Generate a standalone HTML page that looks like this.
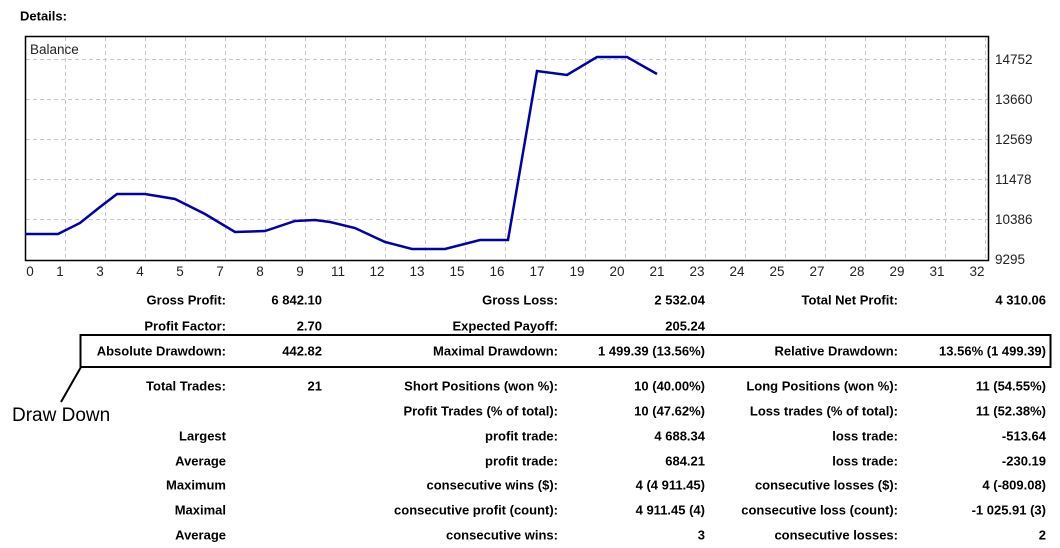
<!DOCTYPE html>
<html><head><meta charset="utf-8"><style>
body{margin:0;width:1060px;height:548px;background:#fff;font-family:"Liberation Sans",sans-serif;position:relative;overflow:hidden}
.t{position:absolute;font-size:13px;font-weight:bold;color:#000;white-space:nowrap;transform:translateY(-50%)}
.r{text-align:right}
</style></head><body>
<div class="t" style="left:20px;top:16px">Details:</div>
<svg width="1060" height="548" style="position:absolute;left:0;top:0">
<g stroke="#c8c8c8" stroke-dasharray="4,3" stroke-width="1">
<line x1="26" y1="59.5" x2="988" y2="59.5"/><line x1="26" y1="99.5" x2="988" y2="99.5"/><line x1="26" y1="139.5" x2="988" y2="139.5"/><line x1="26" y1="179.5" x2="988" y2="179.5"/><line x1="26" y1="219.5" x2="988" y2="219.5"/>
<line x1="65.5" y1="37" x2="65.5" y2="260"/><line x1="105.5" y1="37" x2="105.5" y2="260"/><line x1="145.5" y1="37" x2="145.5" y2="260"/><line x1="185.5" y1="37" x2="185.5" y2="260"/><line x1="225.5" y1="37" x2="225.5" y2="260"/><line x1="265.5" y1="37" x2="265.5" y2="260"/><line x1="305.5" y1="37" x2="305.5" y2="260"/><line x1="345.5" y1="37" x2="345.5" y2="260"/><line x1="385.5" y1="37" x2="385.5" y2="260"/><line x1="425.5" y1="37" x2="425.5" y2="260"/><line x1="465.5" y1="37" x2="465.5" y2="260"/><line x1="505.5" y1="37" x2="505.5" y2="260"/><line x1="545.5" y1="37" x2="545.5" y2="260"/><line x1="585.5" y1="37" x2="585.5" y2="260"/><line x1="625.5" y1="37" x2="625.5" y2="260"/><line x1="665.5" y1="37" x2="665.5" y2="260"/><line x1="705.5" y1="37" x2="705.5" y2="260"/><line x1="745.5" y1="37" x2="745.5" y2="260"/><line x1="785.5" y1="37" x2="785.5" y2="260"/><line x1="825.5" y1="37" x2="825.5" y2="260"/><line x1="865.5" y1="37" x2="865.5" y2="260"/><line x1="905.5" y1="37" x2="905.5" y2="260"/><line x1="945.5" y1="37" x2="945.5" y2="260"/><line x1="985.5" y1="37" x2="985.5" y2="260"/>
</g>
<rect x="25.5" y="36.5" width="963" height="224" fill="none" stroke="#000" stroke-width="1.5"/>
<polyline fill="none" stroke="#0000a8" stroke-width="2.5" points="25,234 58,234 80,223 100,207 117,194 145,194 175,199 205,214 235,232 265,231 295,221 315,220 330,222 355,228 385,242 412,249 445,249 480,240 508,240 537,71 567,75 597,57 627,57 657,74"/>
<g font-family="Liberation Sans,sans-serif" font-size="13.5" fill="#222">
<text x="30" y="54">Balance</text>
<g text-anchor="middle">
<text x="30" y="276">0</text><text x="60" y="276">1</text><text x="100" y="276">3</text><text x="140" y="276">4</text><text x="180" y="276">5</text><text x="220" y="276">7</text><text x="260" y="276">8</text><text x="300" y="276">9</text><text x="338" y="276">11</text><text x="377" y="276">12</text><text x="417" y="276">13</text><text x="457" y="276">15</text><text x="497" y="276">16</text><text x="537" y="276">17</text><text x="577" y="276">19</text><text x="617" y="276">20</text><text x="657" y="276">21</text><text x="697" y="276">23</text><text x="737" y="276">24</text><text x="777" y="276">25</text><text x="817" y="276">27</text><text x="857" y="276">28</text><text x="897" y="276">29</text><text x="937" y="276">31</text><text x="977" y="276">32</text>
</g>
<text x="995" y="64">14752</text><text x="995" y="104">13660</text><text x="995" y="144">12569</text><text x="995" y="184">11478</text><text x="995" y="224">10386</text><text x="995" y="264">9295</text>
</g>
<rect x="80.5" y="335" width="970" height="32" fill="none" stroke="#000" stroke-width="2"/>
<line x1="81" y1="367" x2="61" y2="402" stroke="#000" stroke-width="2"/>
<text x="12" y="421" font-family="Liberation Sans,sans-serif" font-size="19" fill="#000">Draw Down</text>
</svg>
<div class="t r" style="right:834px;top:300px">Gross Profit:</div><div class="t r" style="right:738px;top:300px">6 842.10</div>
<div class="t r" style="right:502px;top:300px">Gross Loss:</div><div class="t r" style="right:355px;top:300px">2 532.04</div>
<div class="t r" style="right:162px;top:300px">Total Net Profit:</div><div class="t r" style="right:14px;top:300px">4 310.06</div>
<div class="t r" style="right:834px;top:326px">Profit Factor:</div><div class="t r" style="right:738px;top:326px">2.70</div>
<div class="t r" style="right:502px;top:326px">Expected Payoff:</div><div class="t r" style="right:355px;top:326px">205.24</div>
<div class="t r" style="right:834px;top:351px">Absolute Drawdown:</div><div class="t r" style="right:738px;top:351px">442.82</div>
<div class="t r" style="right:502px;top:351px">Maximal Drawdown:</div><div class="t r" style="right:355px;top:351px">1 499.39 (13.56%)</div>
<div class="t r" style="right:162px;top:351px">Relative Drawdown:</div><div class="t r" style="right:14px;top:351px">13.56% (1 499.39)</div>
<div class="t r" style="right:834px;top:386px">Total Trades:</div><div class="t r" style="right:738px;top:386px">21</div>
<div class="t r" style="right:502px;top:386px">Short Positions (won %):</div><div class="t r" style="right:355px;top:386px">10 (40.00%)</div>
<div class="t r" style="right:162px;top:386px">Long Positions (won %):</div><div class="t r" style="right:14px;top:386px">11 (54.55%)</div>
<div class="t r" style="right:502px;top:411px">Profit Trades (% of total):</div><div class="t r" style="right:355px;top:411px">10 (47.62%)</div>
<div class="t r" style="right:162px;top:411px">Loss trades (% of total):</div><div class="t r" style="right:14px;top:411px">11 (52.38%)</div>
<div class="t r" style="right:834px;top:436px">Largest</div>
<div class="t r" style="right:502px;top:436px">profit trade:</div><div class="t r" style="right:355px;top:436px">4 688.34</div>
<div class="t r" style="right:162px;top:436px">loss trade:</div><div class="t r" style="right:14px;top:436px">-513.64</div>
<div class="t r" style="right:834px;top:461px">Average</div>
<div class="t r" style="right:502px;top:461px">profit trade:</div><div class="t r" style="right:355px;top:461px">684.21</div>
<div class="t r" style="right:162px;top:461px">loss trade:</div><div class="t r" style="right:14px;top:461px">-230.19</div>
<div class="t r" style="right:834px;top:485px">Maximum</div>
<div class="t r" style="right:502px;top:485px">consecutive wins ($):</div><div class="t r" style="right:355px;top:485px">4 (4 911.45)</div>
<div class="t r" style="right:162px;top:485px">consecutive losses ($):</div><div class="t r" style="right:14px;top:485px">4 (-809.08)</div>
<div class="t r" style="right:834px;top:510px">Maximal</div>
<div class="t r" style="right:502px;top:510px">consecutive profit (count):</div><div class="t r" style="right:355px;top:510px">4 911.45 (4)</div>
<div class="t r" style="right:162px;top:510px">consecutive loss (count):</div><div class="t r" style="right:14px;top:510px">-1 025.91 (3)</div>
<div class="t r" style="right:834px;top:535px">Average</div>
<div class="t r" style="right:502px;top:535px">consecutive wins:</div><div class="t r" style="right:355px;top:535px">3</div>
<div class="t r" style="right:162px;top:535px">consecutive losses:</div><div class="t r" style="right:14px;top:535px">2</div>
</body></html>
